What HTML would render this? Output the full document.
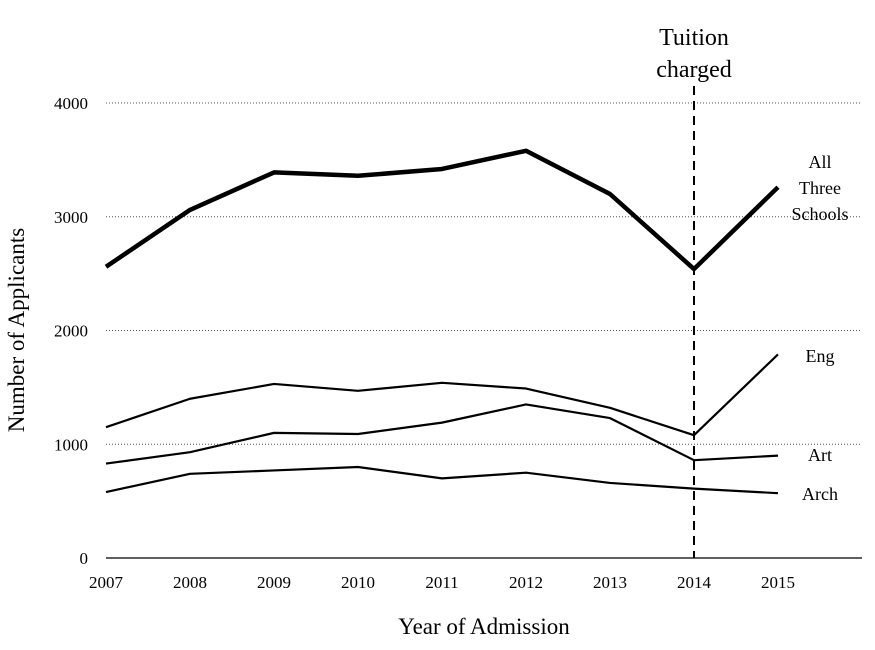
<!DOCTYPE html>
<html><head><meta charset="utf-8"><style>
body{margin:0;background:#fff;}
svg text{font-family:"Liberation Serif",serif;fill:#000;}
</style></head><body>
<svg width="875" height="645" id="chart"></svg>
<script>
const years=[2007,2008,2009,2010,2011,2012,2013,2014,2015];
const allThree=[2560,3060,3390,3360,3420,3580,3200,2540,3260];
const eng=[1150,1400,1530,1470,1540,1490,1320,1080,1790];
const art=[830,930,1100,1090,1190,1350,1230,860,900];
const arch=[580,740,770,800,700,750,660,610,570];
const yTicks=[0,1000,2000,3000,4000];
const NS="http://www.w3.org/2000/svg";
const svg=document.getElementById('chart');
const x=yr=>106+(yr-2007)*84;
const y=v=>558-v*(455/4000);
function el(t,a,p){const e=document.createElementNS(NS,t);for(const k in a)e.setAttribute(k,a[k]);(p||svg).appendChild(e);return e;}
yTicks.forEach(t=>{
 if(t>0){const g=el('line',{x1:106,x2:862,y1:y(t),y2:y(t),stroke:'#555','stroke-width':1,'stroke-dasharray':'1,2'});
 }
 const tx=el('text',{x:88,y:y(t)+6,'text-anchor':'end','font-size':17});tx.textContent=t;
 
});
const ax=el('line',{x1:106,x2:862,y1:558,y2:558,stroke:'#000','stroke-width':1.2});

years.forEach(yr=>{const tx=el('text',{x:x(yr),y:588,'text-anchor':'middle','font-size':17});tx.textContent=yr;
 });
const dl=el('line',{x1:x(2014),x2:x(2014),y1:86,y2:558,stroke:'#000','stroke-width':2,'stroke-dasharray':'9,6'});

[['Tuition',45],['charged',77]].forEach(([s,yy])=>{const tx=el('text',{x:x(2014),y:yy,'text-anchor':'middle','font-size':24});tx.textContent=s;
 });
function series(vals,w,name){const p=el('polyline',{points:vals.map((v,i)=>x(years[i])+','+y(v)).join(' '),fill:'none',stroke:'#000','stroke-width':w,'stroke-linejoin':'round'});
 }
series(allThree,4.5,'line-all-three');series(eng,2.2,'line-eng');series(art,2.2,'line-art');series(arch,2.2,'line-arch');
[['All',168],['Three',194],['Schools',220],['Eng',362],['Art',461],['Arch',500]].forEach(([s,yy])=>{
 const tx=el('text',{x:820,y:yy,'text-anchor':'middle','font-size':18});tx.textContent=s;
 });
const xt=el('text',{x:484,y:634,'text-anchor':'middle','font-size':23});xt.textContent='Year of Admission';

const yt=el('text',{x:0,y:0,'text-anchor':'middle','font-size':23,transform:'translate(24,330) rotate(-90)'});yt.textContent='Number of Applicants';

</script>
</body></html>
